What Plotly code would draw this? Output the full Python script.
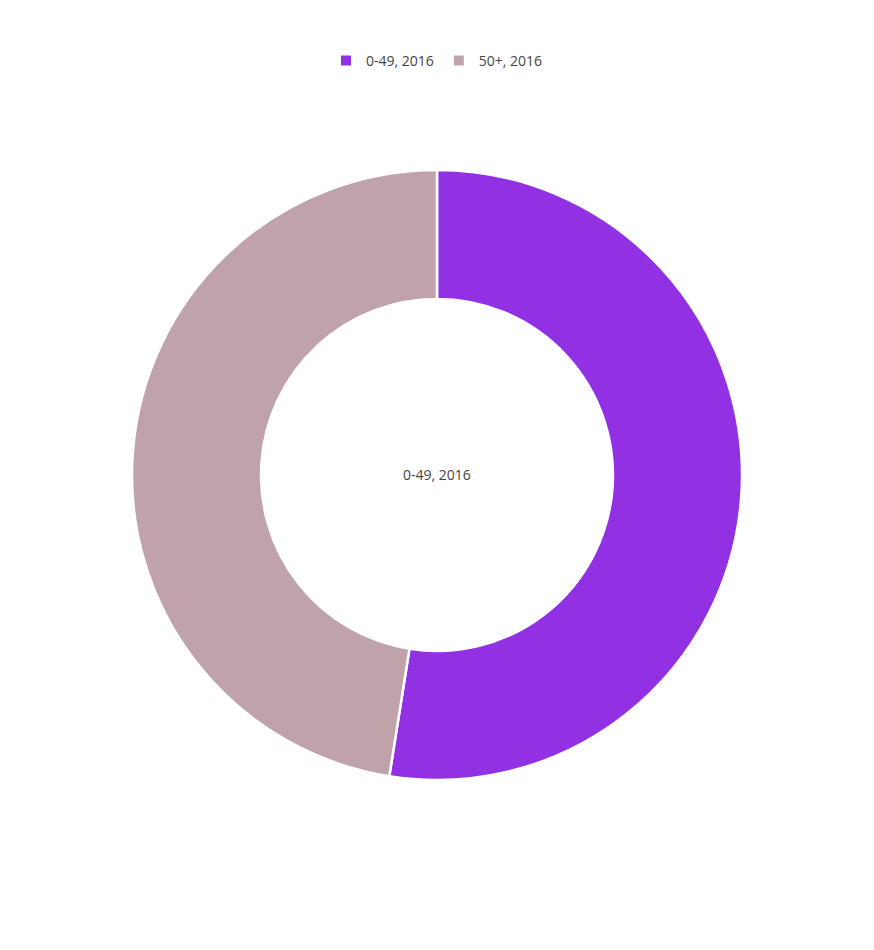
import plotly.graph_objects as go

labels = ["0-49, 2016", "50+, 2016"]
values = [52.5, 47.5]
colors = ["#9131E3", "#C0A2AA"]
center_text = "0-49, 2016"

# page body has an 8px margin; size the figure to fit the window
W, H = 858, 934
off = 8
cy_top, cy_bot = 170 - off, 780 - off

fig = go.Figure(go.Pie(
    labels=labels,
    values=values,
    hole=0.577,
    sort=False,
    direction="clockwise",
    rotation=0,
    textinfo="none",
    hoverinfo="label+percent",
    marker=dict(colors=colors, line=dict(color="white", width=2.5)),
    domain=dict(x=[0, 1], y=[(H - cy_bot) / H, (H - cy_top) / H]),
))

fig.add_annotation(text=center_text, x=0.5, y=(H - (474 - off)) / H, xref="paper", yref="paper",
                   showarrow=False, font=dict(size=14, color="#444444"))

fig.update_layout(
    width=W, height=H,
    margin=dict(l=0, r=0, t=0, b=0),
    paper_bgcolor="white",
    font=dict(family="Open Sans, Noto Sans, sans-serif", size=14, color="#444444"),
    showlegend=True,
    legend=dict(orientation="h", x=0.5, xanchor="center", y=(H - (61 - off)) / H, yanchor="middle",
                font=dict(size=14, color="#444444"), itemsizing="constant"),
)

fig.write_html("out.html")
